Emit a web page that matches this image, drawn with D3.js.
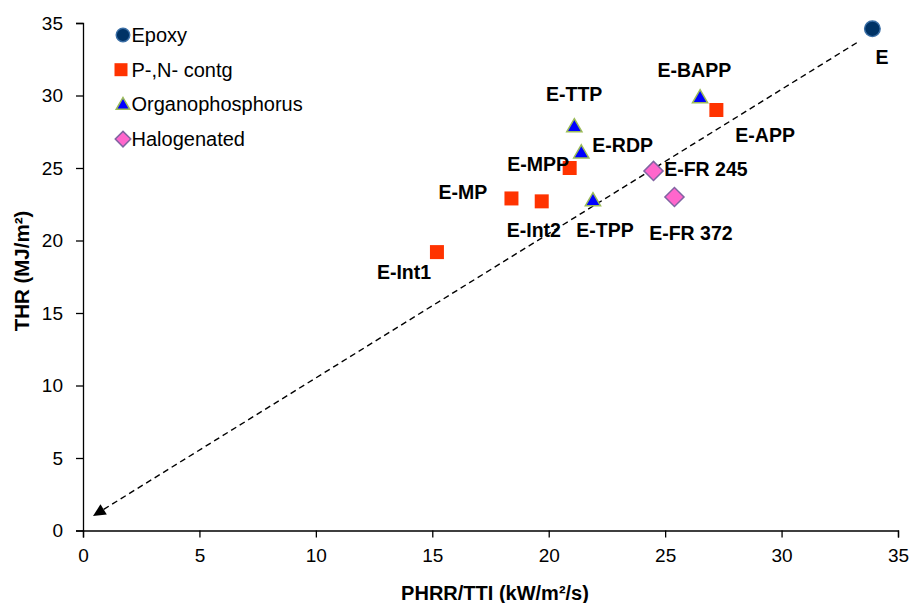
<!DOCTYPE html>
<html>
<head>
<meta charset="utf-8">
<script src="https://cdn.jsdelivr.net/npm/d3@7"></script>
<style>
  body { margin: 0; background: #fff; }
  svg { display: block; font-family: "Liberation Sans", Arial, sans-serif; }
</style>
</head>
<body>
<svg id="chart" width="910" height="603"></svg>
<script>
// ---------- data ----------
const epoxyLabels = ["E"];
const epoxyX = [33.9];
const epoxyY = [34.6];

const pnLabels = ["E-MP", "E-Int1", "E-Int2", "E-MPP", "E-APP"];
const pnX = [18.4, 15.2, 19.7, 20.9, 27.2];
const pnY = [22.9, 19.2, 22.7, 25.0, 29.0];

const opLabels = ["E-TTP", "E-RDP", "E-TPP", "E-BAPP"];
const opX = [21.1, 21.4, 21.9, 26.5];
const opY = [27.9, 26.1, 22.8, 29.9];

const halLabels = ["E-FR 245", "E-FR 372"];
const halX = [24.5, 25.4];
const halY = [24.8, 23.0];

const seriesNames = ["Epoxy", "P-,N- contg", "Organophosphorus", "Halogenated"];

// dashed arrow (from E toward origin): tip first, tail second
const arrowX = [0.43, 33.28];
const arrowY = [1.0, 33.69];

const xTicks = [0, 5, 10, 15, 20, 25, 30, 35];
const yTicks = [0, 5, 10, 15, 20, 25, 30, 35];
const xTitle = "PHRR/TTI (kW/m²/s)";
const yTitle = "THR (MJ/m²)";

// ---------- layout / style ----------
const labelOffset = {
  "E": [3, 35], "E-BAPP": [-42.6, -20.4], "E-APP": [19, 31.7],
  "E-FR 245": [10.7, 4.7], "E-FR 372": [-25.3, 42.7], "E-TTP": [-28.3, -25],
  "E-RDP": [11, 0], "E-MPP": [-62.3, 2.7], "E-MP": [-73, 0.3],
  "E-Int2": [-35, 35.3], "E-TPP": [-16.6, 37.4], "E-Int1": [-60, 27]
};

const svg = d3.select("#chart");
const x = d3.scaleLinear().domain([0, 35]).range([83, 898]);
const y = d3.scaleLinear().domain([0, 35]).range([530.5, 23]);

// axes
const xAxis = d3.axisBottom(x).tickValues(xTicks).tickSizeOuter(0).tickSize(7).tickPadding(11);
const yAxis = d3.axisLeft(y).tickValues(yTicks).tickSizeOuter(0).tickSize(7).tickPadding(13);

const gx = svg.append("g").attr("transform", `translate(0,${y(0)})`).call(xAxis);
const gy = svg.append("g").attr("transform", `translate(${x(0)},0)`).call(yAxis);
[gx, gy].forEach(g => {
  g.selectAll("path, line").attr("stroke", "#000").attr("stroke-width", 1.3);
  g.selectAll("text").attr("font-size", 19).attr("fill", "#000")
    .attr("font-family", "'Liberation Sans', Arial, sans-serif");
});

// axis titles
svg.append("text").attr("x", 495).attr("y", 600).attr("text-anchor", "middle")
  .attr("font-size", 20).attr("font-weight", "bold").text(xTitle);
svg.append("text").attr("transform", "translate(29,271) rotate(-90)")
  .attr("text-anchor", "middle").attr("font-size", 20.5).attr("font-weight", "bold").text(yTitle);

// dashed arrow line with solid head at the tip
const p0 = [x(arrowX[0]), y(arrowY[0])];
const p1 = [x(arrowX[1]), y(arrowY[1])];
const len = Math.hypot(p1[0] - p0[0], p1[1] - p0[1]);
const u = [(p1[0] - p0[0]) / len, (p1[1] - p0[1]) / len];
const headLen = 12.5, headHalf = 6;
const base = [p0[0] + u[0] * headLen, p0[1] + u[1] * headLen];
svg.append("path").attr("d", d3.line()([base, p1]))
  .attr("fill", "none").attr("stroke", "#000").attr("stroke-width", 1.4)
  .attr("stroke-dasharray", "6,4");
svg.append("path")
  .attr("d", d3.line()([p0,
    [base[0] - u[1] * headHalf, base[1] + u[0] * headHalf],
    [base[0] + u[1] * headHalf, base[1] - u[0] * headHalf]]) + "Z")
  .attr("fill", "#000");

// marker styles
const styles = {
  circle: { type: d3.symbolCircle, size: Math.PI * 7.8 * 7.8, fill: "#003366", stroke: "#3A6EA5", sw: 1.4, rot: 0 },
  square: { type: d3.symbolSquare, size: 14 * 14, fill: "#FF3300", stroke: "none", sw: 0, rot: 0 },
  tri: { type: d3.symbolTriangle, size: 100, fill: "#0000FF", stroke: "#9BBB59", sw: 1.5, rot: 0 },
  diamond: { type: d3.symbolSquare, size: 13.5 * 13.5, fill: "#FF66CC", stroke: "#8064A2", sw: 1.5, rot: 45 }
};

function drawSeries(xs, ys, st, dyShift) {
  const g = svg.append("g");
  g.selectAll("path").data(xs.map((v, i) => [v, ys[i]])).join("path")
    .attr("d", d3.symbol().type(st.type).size(st.size)())
    .attr("transform", d => `translate(${x(d[0])},${y(d[1]) + (dyShift || 0)}) rotate(${st.rot})`)
    .attr("fill", st.fill).attr("stroke", st.stroke).attr("stroke-width", st.sw);
  return g;
}

drawSeries(epoxyX, epoxyY, styles.circle);
drawSeries(pnX, pnY, styles.square);
drawSeries(halX, halY, styles.diamond);
drawSeries(opX, opY, styles.tri, 1.5);

// point labels
const allLabels = [].concat(
  epoxyLabels.map((l, i) => [l, epoxyX[i], epoxyY[i]]),
  pnLabels.map((l, i) => [l, pnX[i], pnY[i]]),
  opLabels.map((l, i) => [l, opX[i], opY[i]]),
  halLabels.map((l, i) => [l, halX[i], halY[i]])
);
svg.append("g").selectAll("text").data(allLabels).join("text")
  .attr("x", d => x(d[1]) + labelOffset[d[0]][0])
  .attr("y", d => y(d[2]) + labelOffset[d[0]][1])
  .attr("font-size", 19.5).attr("font-weight", "bold").attr("fill", "#000")
  .text(d => d[0]);

// legend
const legendStyles = [
  { st: styles.circle, size: Math.PI * 6.8 * 6.8 },
  { st: styles.square, size: 13 * 13 },
  { st: styles.tri, size: 80 },
  { st: styles.diamond, size: 11 * 11 }
];
const lg = svg.append("g");
seriesNames.forEach((name, i) => {
  const cy = 35 + i * 34.7;
  const s = legendStyles[i];
  lg.append("path")
    .attr("d", d3.symbol().type(s.st.type).size(s.size)())
    .attr("transform", `translate(${i === 1 ? 121 : 123},${cy + (i === 2 ? 1 : 0)}) rotate(${s.st.rot})`)
    .attr("fill", s.st.fill).attr("stroke", s.st.stroke).attr("stroke-width", s.st.sw);
  lg.append("text").attr("x", 131.5).attr("y", cy + 6.8)
    .attr("font-size", 20).attr("fill", "#000").text(name);
});
</script>
</body>
</html>
